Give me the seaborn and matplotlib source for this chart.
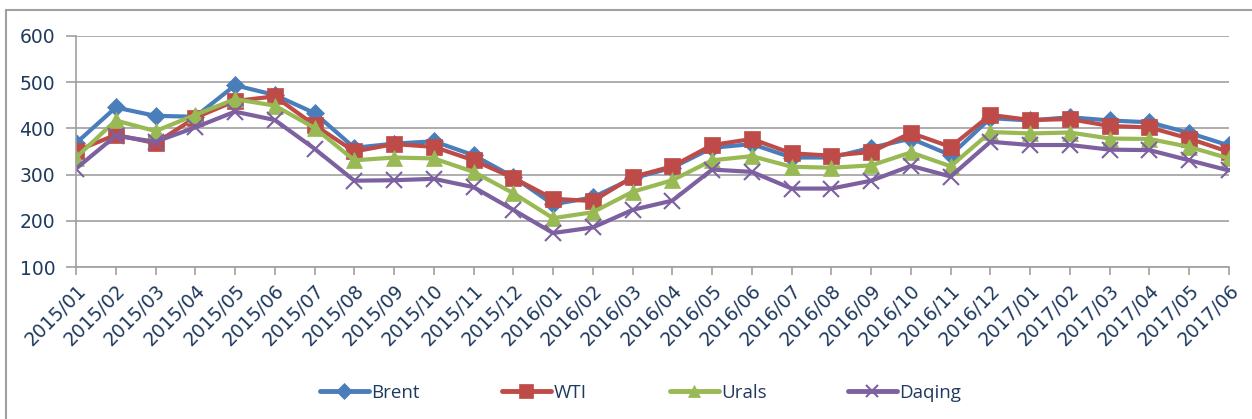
import pandas as pd
import numpy as np
import matplotlib.pyplot as plt
import seaborn as sns
from matplotlib.lines import Line2D

months = ["2015/01", "2015/02", "2015/03", "2015/04", "2015/05", "2015/06",
          "2015/07", "2015/08", "2015/09", "2015/10", "2015/11", "2015/12",
          "2016/01", "2016/02", "2016/03", "2016/04", "2016/05", "2016/06",
          "2016/07", "2016/08", "2016/09", "2016/10", "2016/11", "2016/12",
          "2017/01", "2017/02", "2017/03", "2017/04", "2017/05", "2017/06"]

brent = [368, 445, 427, 425, 493, 472, 433, 358, 367, 372, 342, 295,
         236, 251, 292, 315, 358, 366, 337, 337, 358, 378, 342, 422,
         417, 424, 417, 413, 390, 363]
wti = [351, 386, 368, 423, 459, 469, 407, 350, 366, 360, 331, 293,
       248, 243, 295, 318, 364, 377, 346, 341, 349, 390, 360, 429,
       418, 420, 405, 402, 378, 349]
urals = [337, 417, 394, 429, 463, 449, 401, 331, 337, 335, 306, 260,
         206, 219, 263, 288, 331, 340, 317, 315, 320, 348, 318, 392,
         389, 391, 378, 377, 360, 335]
daqing = [313, 384, 371, 402, 436, 418, 356, 287, 288, 291, 273, 224,
          174, 186, 224, 244, 311, 306, 270, 270, 287, 319, 296, 371,
          364, 364, 354, 353, 331, 309]

names = ["Brent", "WTI", "Urals", "Daqing"]
colors = ["#4A7EBB", "#BE4B48", "#98B954", "#7D60A0"]
markers = ["D", "s", "^", "x"]
msizes = [9, 11.5, 11, 11]

df = pd.DataFrame({"x": np.arange(len(months)), "Brent": brent, "WTI": wti,
                   "Urals": urals, "Daqing": daqing})

W, H = 1252, 419
fig = plt.figure(figsize=(W / 100, H / 100), dpi=100)
ax = fig.add_axes([76 / W, 1 - 267.3 / H, (1229 - 76) / W, (267.3 - 35.7) / H])

sns.set_style("white")
plt.rcParams["font.family"] = ["Open Sans", "DejaVu Sans"]
txt_color = "#1F3A5F"

for name, c, m, ms in zip(names, colors, markers, msizes):
    sns.lineplot(data=df, x="x", y=name, ax=ax, color=c, marker=m,
                 markersize=ms, linewidth=3.0, markeredgecolor=c,
                 markeredgewidth=1.5 if m == "x" else 0.5, label=name,
                 legend=False)

ax.set_xlim(0, len(months) - 1)
ax.set_ylim(100, 600)
ax.set_yticks([100, 200, 300, 400, 500, 600])
ax.set_xticks(np.arange(len(months)))
ax.set_xticklabels(months, rotation=45, ha="right", rotation_mode="anchor")
ax.grid(axis="y", color="#A0A0A0", linewidth=1.2)
ax.set_axisbelow(True)
ax.set_xlabel("")
ax.set_ylabel("")

for s in ["top", "right"]:
    ax.spines[s].set_visible(False)
for s in ["left", "bottom"]:
    ax.spines[s].set_color("#A0A0A0")
    ax.spines[s].set_linewidth(1.2)

ax.tick_params(axis="y", direction="out", length=7, width=1.2, color="#A0A0A0",
               labelsize=13.5, labelcolor=txt_color, pad=8)
ax.tick_params(axis="x", direction="out", length=6, width=1.2, color="#A0A0A0",
               labelsize=13.5, labelcolor=txt_color, pad=4)

# legend entries placed individually, like the Excel legend
leg_x = [320, 502, 670, 848]
for name, c, m, ms, lx in zip(names, colors, markers, msizes, leg_x):
    h = Line2D([0], [0], color=c, marker=m, markersize=ms * 0.85, linewidth=3.5,
               markeredgecolor=c, markeredgewidth=1.5 if m == "x" else 0.5)
    leg = fig.legend([h], [name], loc="center left",
                     bbox_to_anchor=(lx / W, 1 - 393 / H), frameon=False,
                     fontsize=13.5, handlelength=2.6, handletextpad=0.15,
                     borderpad=0, borderaxespad=0)
    for t in leg.get_texts():
        t.set_color(txt_color)

# chart area border (left and top edges visible)
fig.add_artist(Line2D([5.5 / W, 5.5 / W], [0, 1 - 10 / H], transform=fig.transFigure,
                      color="#A0A0A0", linewidth=1.5))
fig.add_artist(Line2D([5.5 / W, 1], [1 - 10 / H, 1 - 10 / H], transform=fig.transFigure,
                      color="#A0A0A0", linewidth=1.5))

plt.savefig("out.png", dpi=100)
